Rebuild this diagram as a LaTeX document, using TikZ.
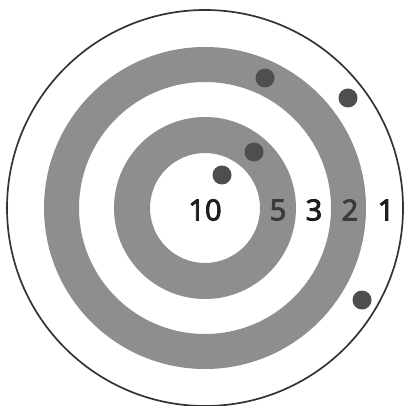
\documentclass[tikz,border=0pt]{standalone}
\usepackage{fontspec}
\setmainfont{Open Sans}
\newcommand\heavytext[1]{\special{pdf:literal direct 2 Tr 0.9 w}#1\special{pdf:literal direct 0 Tr}}
\definecolor{ringgray}{HTML}{8E8E8E}
\definecolor{dotgray}{HTML}{4E4E4E}
\definecolor{inkdark}{HTML}{1E1E1E}
\begin{document}
\begin{tikzpicture}[x=1pt,y=-1pt,
  ring/.style={fill=ringgray,even odd rule},
  hole/.style={circle,fill=dotgray,minimum size=19pt,inner sep=0pt},
  score/.style={font=\fontsize{29}{29}\selectfont,text=inkdark,inner sep=0pt,anchor=center}]
\useasboundingbox (0,0) rectangle (406,406);
\fill[white] (0,0) rectangle (406,406);
\coordinate (c) at (205,208);
\draw[line width=1.7pt,black!80] (c) circle[radius=198];
\fill[ring] (c) circle[radius=161] (c) circle[radius=126];
\fill[ring] (c) circle[radius=91] (c) circle[radius=55];
\node[hole] (h1) at (265,78) {};
\node[hole] (h2) at (348,98) {};
\node[hole] (h3) at (254,152) {};
\node[hole] (h4) at (222,175) {};
\node[hole] (h5) at (362,300) {};
\node[score] (s10) at (205,210) {\heavytext{10}};
\node[score,text=inkdark!75!ringgray] (s5) at (278,210) {\heavytext{5}};
\node[score] (s3) at (314,210) {\heavytext{3}};
\node[score,text=inkdark!75!ringgray] (s2) at (350,210) {\heavytext{2}};
\node[score] (s1) at (386,210) {\heavytext{1}};
\end{tikzpicture}
\end{document}
